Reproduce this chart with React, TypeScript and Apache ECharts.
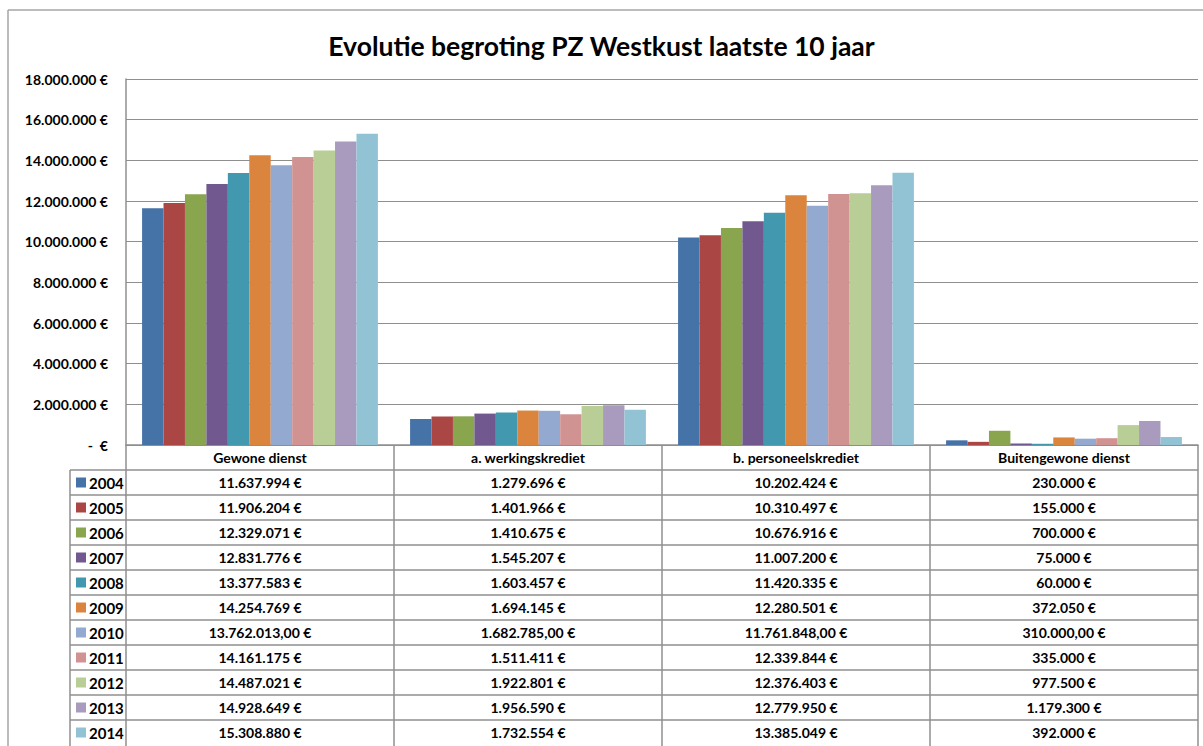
import React, { useEffect, useRef } from "react";
import * as echarts from "echarts";

const title = "Evolutie begroting PZ Westkust laatste 10 jaar";
const categories = ["Gewone dienst", "a. werkingskrediet", "b. personeelskrediet", "Buitengewone dienst"];
const years = ["2004", "2005", "2006", "2007", "2008", "2009", "2010", "2011", "2012", "2013", "2014"];
const colors = ["#4572A7", "#AA4643", "#89A54E", "#71588F", "#4198AF", "#DB843D", "#93A9CF", "#D19392", "#B9CD96", "#A99BBD", "#91C3D5"];
const v2004 = [11637994, 1279696, 10202424, 230000];
const v2005 = [11906204, 1401966, 10310497, 155000];
const v2006 = [12329071, 1410675, 10676916, 700000];
const v2007 = [12831776, 1545207, 11007200, 75000];
const v2008 = [13377583, 1603457, 11420335, 60000];
const v2009 = [14254769, 1694145, 12280501, 372050];
const v2010 = [13762013, 1682785, 11761848, 310000];
const v2011 = [14161175, 1511411, 12339844, 335000];
const v2012 = [14487021, 1922801, 12376403, 977500];
const v2013 = [14928649, 1956590, 12779950, 1179300];
const v2014 = [15308880, 1732554, 13385049, 392000];
const seriesValues = [v2004, v2005, v2006, v2007, v2008, v2009, v2010, v2011, v2012, v2013, v2014];
const yearDecimals = [0, 0, 0, 0, 0, 0, 2, 0, 0, 0, 0];
const yMax = 18000000;
const yInterval = 2000000;

function fmt(v: number, dec: number): string {
  const intPart = Math.floor(v).toString().replace(/\B(?=(\d{3})+(?!\d))/g, ".");
  if (dec > 0) {
    const frac = (v - Math.floor(v)).toFixed(dec).slice(2);
    return intPart + "," + frac + " €";
  }
  return intPart + " €";
}

const FONT = "Lato";
const FS = 14;
const W = 1203;
const H = 746;
const GL = 126;
const GR = 1198;
const GT = 79;
const GB = 445;
const ROW = 25;
const LEGX = 70;
const LINE = "#8f8f8f";

export default function App() {
  const ref = useRef<HTMLDivElement>(null);
  useEffect(() => {
    document.body.style.margin = "0";
    if (!ref.current) return;
    const chart = echarts.init(ref.current, undefined, { renderer: "svg" });
    const colW = (GR - GL) / categories.length;
    const graphics: any[] = [];
    graphics.push({ type: "line", shape: { x1: 8, y1: 10, x2: W, y2: 10 }, style: { stroke: "#a6a6a6", lineWidth: 1.5 } });
    graphics.push({ type: "line", shape: { x1: 8, y1: 10, x2: 8, y2: H }, style: { stroke: "#a6a6a6", lineWidth: 1.5 } });
    for (let c = 0; c <= categories.length; c++) {
      const x = GL + c * colW;
      graphics.push({ type: "line", shape: { x1: x, y1: GB, x2: x, y2: H }, style: { stroke: LINE, lineWidth: 1.5 } });
    }
    graphics.push({ type: "line", shape: { x1: LEGX, y1: GB + ROW, x2: LEGX, y2: H }, style: { stroke: LINE, lineWidth: 1.5 } });
    for (let r = 1; r <= years.length; r++) {
      const y = GB + r * ROW;
      graphics.push({ type: "line", shape: { x1: LEGX, y1: y, x2: GR, y2: y }, style: { stroke: LINE, lineWidth: 1.5 } });
    }
    years.forEach((yr, r) => {
      const cy = GB + (r + 1) * ROW + ROW / 2;
      graphics.push({ type: "rect", shape: { x: 76, y: cy - 5, width: 10, height: 10 }, style: { fill: colors[r] } });
      graphics.push({ type: "text", x: 89, y: cy, style: { text: yr, font: `bold 15px ${FONT}`, fill: "#000", align: "left", verticalAlign: "middle" } });
      seriesValues[r].forEach((v, c) => {
        graphics.push({ type: "text", x: GL + (c + 0.5) * colW, y: cy, style: { text: fmt(v, yearDecimals[r]), font: `bold ${FS}px ${FONT}`, fill: "#000", align: "center", verticalAlign: "middle" } });
      });
    });

    chart.setOption({
      animation: false,
      title: { text: title, left: "center", top: 27, textStyle: { fontFamily: FONT, fontWeight: "bold", fontSize: 26.5, color: "#000" } },
      grid: { left: GL, right: W - GR, top: GT, bottom: H - GB, containLabel: false },
      xAxis: {
        type: "category",
        data: categories,
        axisLine: { show: true, lineStyle: { color: LINE, width: 1.5 } },
        axisTick: { show: false },
        axisLabel: { margin: 5, fontFamily: FONT, fontWeight: "bold", fontSize: FS, color: "#000" },
      },
      yAxis: {
        type: "value",
        min: 0,
        max: yMax,
        interval: yInterval,
        axisLine: { show: true, lineStyle: { color: LINE, width: 1.5 } },
        axisTick: { show: false },
        splitLine: { lineStyle: { color: LINE, width: 1 } },
        axisLabel: {
          margin: 18,
          fontFamily: FONT,
          fontWeight: "bold",
          fontSize: FS,
          color: "#000",
          formatter: (v: number) => (v === 0 ? "-  €" : fmt(v, 0)),
        },
      },
      series: years.map((yr, i) => ({
        name: yr,
        type: "bar",
        data: seriesValues[i],
        barGap: "0%",
        barCategoryGap: "12%",
        itemStyle: { color: colors[i] },
      })),
      graphic: graphics,
    });
    return () => chart.dispose();
  }, []);
  return <div ref={ref} style={{ width: W, height: H }} />;
}
